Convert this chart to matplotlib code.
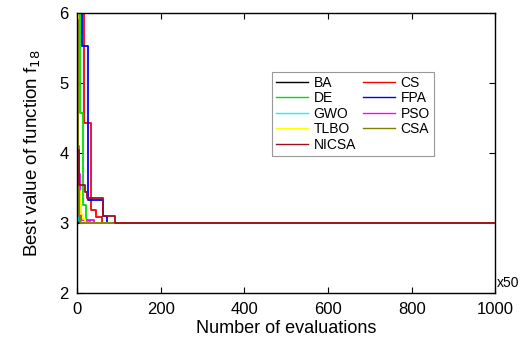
import matplotlib
matplotlib.use('Agg')
import matplotlib.pyplot as plt

plt.rcParams['font.family'] = ['Liberation Sans', 'DejaVu Sans']

# Best-so-far values, stored as (evaluation x50, value) breakpoints of each step curve
ba_it = [0, 2, 4, 1000]
ba_val = [6.9, 3.05, 3.0, 3.0]
cs_it = [0, 16, 34, 46, 60, 1000]
cs_val = [9.0, 4.43, 3.18, 3.08, 3.0, 3.0]
de_it = [0, 6, 14, 22, 30, 1000]
de_val = [7.5, 4.57, 3.25, 3.02, 3.0, 3.0]
fpa_it = [0, 11, 25, 63, 71, 1000]
fpa_val = [9.0, 5.53, 3.32, 3.09, 3.0, 3.0]
gwo_it = [0, 2, 5, 9, 1000]
gwo_val = [6.5, 3.42, 3.03, 3.0, 3.0]
pso_it = [0, 3, 6, 10, 40, 1000]
pso_val = [7.0, 3.7, 3.25, 3.04, 3.0, 3.0]
tlbo_it = [0, 2, 4, 7, 10, 14, 19, 1000]
tlbo_val = [6.5, 3.75, 3.45, 3.25, 3.12, 3.05, 3.0, 3.0]
csa_it = [0, 2, 4, 6, 1000]
csa_val = [5.9, 4.1, 3.1, 3.0, 3.0]
nicsa_it = [0, 5, 20, 24, 61, 91, 1000]
nicsa_val = [4.04, 3.54, 3.44, 3.35, 3.09, 3.0, 3.0]

series = [
    ('BA', ba_it, ba_val, 'black'),
    ('CS', cs_it, cs_val, 'red'),
    ('DE', de_it, de_val, '#00dd00'),
    ('FPA', fpa_it, fpa_val, 'blue'),
    ('GWO', gwo_it, gwo_val, 'cyan'),
    ('PSO', pso_it, pso_val, 'magenta'),
    ('TLBO', tlbo_it, tlbo_val, 'yellow'),
    ('CSA', csa_it, csa_val, '#808000'),
    ('NICSA', nicsa_it, nicsa_val, '#a01020'),
]

fig = plt.figure(figsize=(5.28, 3.45), dpi=100)
ax = fig.add_axes([0.146, 0.152, 0.792, 0.810])

lines = {}
for name, it, val, color in series:
    ln, = ax.step(it, val, where='post', color=color, lw=1.3, label=name)
    lines[name] = ln

ax.set_xlim(0, 1000)
ax.set_ylim(2, 6)
ax.set_xticks(range(0, 1001, 200))
ax.set_yticks([2, 3, 4, 5, 6])
ax.tick_params(direction='in', top=True, right=True, labelsize=12, length=4)
ax.tick_params(axis='x', pad=7)
ax.tick_params(axis='y', pad=6)
for sp in ax.spines.values():
    sp.set_linewidth(1.0)

ax.set_xlabel('Number of evaluations', fontsize=13, labelpad=2)
ax.set_ylabel('Best value of function f$_{18}$', fontsize=13.5, labelpad=12)
ax.text(1.003, 0.008, 'x50', transform=ax.transAxes, fontsize=10, ha='left', va='bottom')

# legend laid out row by row: BA CS / DE FPA / GWO PSO / TLBO CSA / NICSA
order = ['BA', 'DE', 'GWO', 'TLBO', 'NICSA', 'CS', 'FPA', 'PSO', 'CSA']
leg = ax.legend([lines[n] for n in order], order, ncol=2, fontsize=10,
                loc='upper left', bbox_to_anchor=(0.466, 0.79), borderaxespad=0,
                fancybox=False, framealpha=1, edgecolor='#999999',
                handlelength=2.3, handletextpad=0.4, columnspacing=0.5,
                labelspacing=0.1, borderpad=0.3)
leg.get_frame().set_linewidth(0.8)
for h in leg.get_lines():
    h.set_linewidth(1.0)

fig.savefig('out.png', dpi=100)
